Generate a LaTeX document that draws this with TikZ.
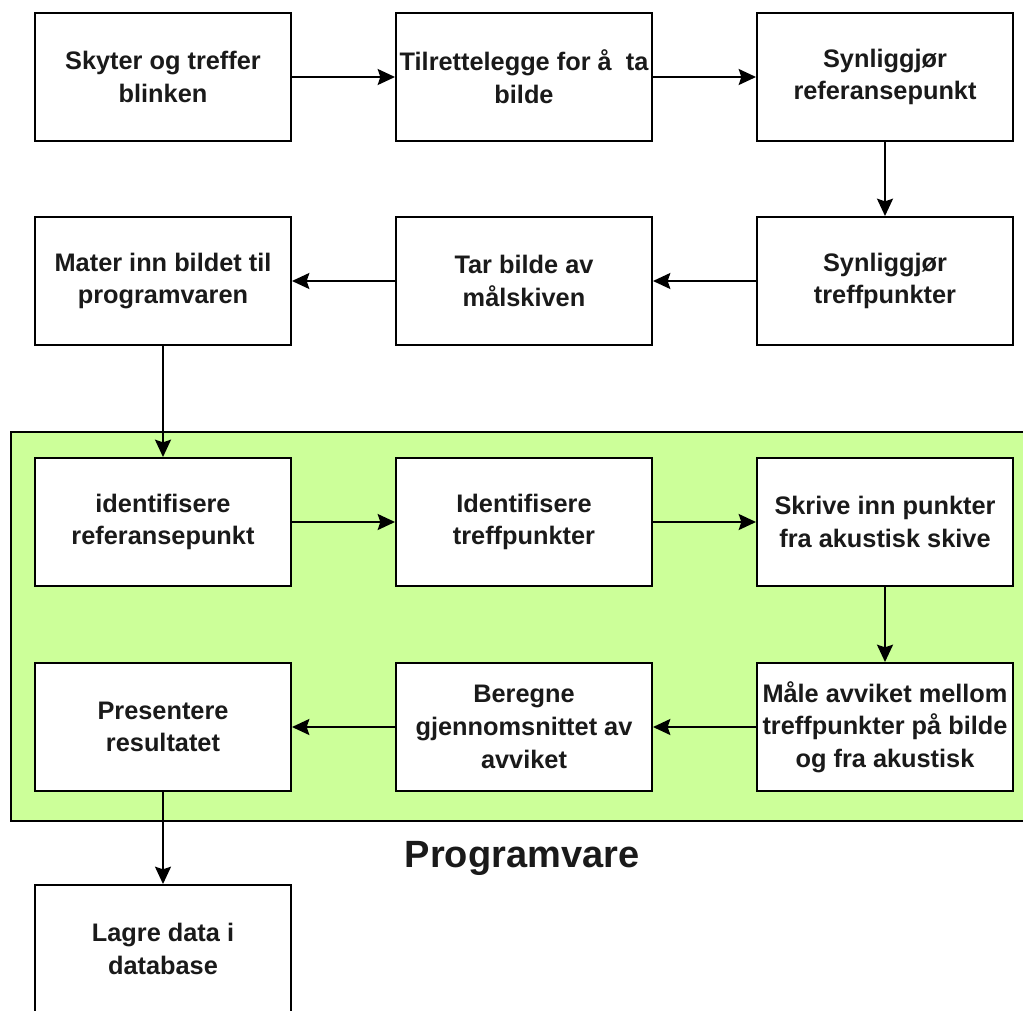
\documentclass[tikz,border=0pt]{standalone}
\usepackage{fontspec}
\setmainfont{Liberation Sans}
\usetikzlibrary{arrows.meta,positioning}
\definecolor{progfill}{RGB}{204,255,153}
\definecolor{inktext}{RGB}{26,26,26}
\tikzset{
  stepbox/.style={draw=black, fill=white, line width=1.5pt,
    minimum width=256*0.75pt, minimum height=128*0.75pt,
    align=center, inner sep=0pt, text=inktext,
    font=\fontsize{19pt}{24.5pt}\selectfont\bfseries},
  flow/.style={draw=black, line width=1.5pt,
    -{Stealth[length=13pt,width=12pt,inset=2pt]}},
}
\begin{document}
\begin{tikzpicture}[x=0.75pt,y=-0.75pt]
  \useasboundingbox (0,0) rectangle (1023,1010);
  \begin{scope}
    \clip (0,0) rectangle (1023,1010);
    % software frame
    \draw[fill=progfill, line width=1.5pt] (11,432) rectangle (1040,821);
    % first row
    \node[stepbox] (a1) at (163,77) {Skyter og treffer\\blinken};
    \node[stepbox] (a2) at (524,77) {Tilrettelegge for å\ \ ta\\bilde};
    \node[stepbox] (a3) at (885,77) {Synliggjør\\referansepunkt};
    % second row
    \node[stepbox] (b3) at (885,281) {Synliggjør\\treffpunkter};
    \node[stepbox] (b2) at (524,281) {Tar bilde av\\målskiven};
    \node[stepbox] (b1) at (163,281) {Mater inn bildet til\\programvaren};
    % software steps
    \node[stepbox] (c1) at (163,522) {identifisere\\referansepunkt};
    \node[stepbox] (c2) at (524,522) {Identifisere\\treffpunkter};
    \node[stepbox] (c3) at (885,522) {Skrive inn punkter\\fra akustisk skive};
    \node[stepbox] (d3) at (885,727) {Måle avviket mellom\\treffpunkter på bilde\\og fra akustisk};
    \node[stepbox] (d2) at (524,727) {Beregne\\gjennomsnittet av\\avviket};
    \node[stepbox] (d1) at (163,727) {Presentere\\resultatet};
    % storage
    \node[stepbox] (e1) at (163,949) {Lagre data i\\database};
    \node[font=\fontsize{28.5pt}{32pt}\selectfont\bfseries, text=inktext] (prog) at (522,858) {Programvare};
    % connectors
    \draw[flow] (a1) -- (a2);
    \draw[flow] (a2) -- (a3);
    \draw[flow] (a3) -- (b3);
    \draw[flow] (b3) -- (b2);
    \draw[flow] (b2) -- (b1);
    \draw[flow] (b1) -- (c1);
    \draw[flow] (c1) -- (c2);
    \draw[flow] (c2) -- (c3);
    \draw[flow] (c3) -- (d3);
    \draw[flow] (d3) -- (d2);
    \draw[flow] (d2) -- (d1);
    \draw[flow] (d1) -- (e1);
  \end{scope}
\end{tikzpicture}
\end{document}
